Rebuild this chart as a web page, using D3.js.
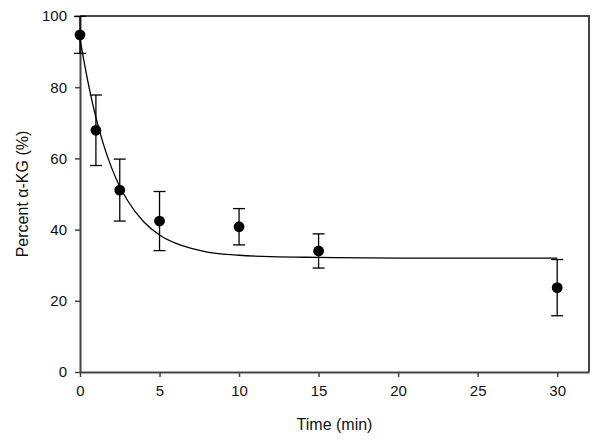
<!DOCTYPE html>
<html>
<head>
<meta charset="utf-8">
<script src="https://cdn.jsdelivr.net/npm/d3@7"></script>
<style>
  body { margin: 0; background: #fff; }
  svg { display: block; font-family: "Liberation Sans", Arial, sans-serif; }
</style>
</head>
<body>
<svg id="chart" width="600" height="443"></svg>
<script>
// measured points (min, percent, error)
const times = [0, 1, 2.5, 5, 10, 15, 30];
const means = [94.7, 67.9, 51.1, 42.4, 40.8, 34.0, 23.7];
const errors = [5.2, 9.9, 8.7, 8.3, 5.1, 4.8, 7.9];

// fitted curve
const fitTimes = [0, 0.5, 1, 1.5, 2, 2.5, 3, 4, 5, 6, 7, 8, 10, 12, 15, 20, 25, 30];
const fitValues = [93.5, 81.5, 71.5, 63.6, 57.2, 52.1, 48.1, 42.2, 38.5, 36.2, 34.7, 33.7, 32.8, 32.4, 32.2, 32.0, 32.0, 32.0];

const xTicks = [0, 5, 10, 15, 20, 25, 30];
const yTicks = [0, 20, 40, 60, 80, 100];

const margin = { top: 16, right: 11, bottom: 71, left: 80 },
    width = 600 - margin.left - margin.right,
    height = 443 - margin.top - margin.bottom;

const svg = d3.select("#chart");
const g = svg.append("g").attr("transform", `translate(${margin.left},${margin.top})`);

const x = d3.scaleLinear().domain([0, 32]).range([0, width]);
const y = d3.scaleLinear().domain([0, 100]).range([height, 0]);

const axisColor = "#444";

// frame (top and right)
g.append("path")
    .attr("d", `M0,0H${width}V${height}`)
    .attr("fill", "none")
    .attr("stroke", axisColor)
    .attr("stroke-width", 2);

// x axis
const xAxis = g.append("g")
    .attr("transform", `translate(0,${height})`)
    .call(d3.axisBottom(x).tickValues(xTicks).tickSize(5).tickPadding(8).tickSizeOuter(0));
xAxis.select(".domain").attr("stroke", axisColor).attr("stroke-width", 2);
xAxis.selectAll(".tick line").attr("stroke", axisColor).attr("stroke-width", 1.5);
xAxis.selectAll("text").style("font-size", "15px").attr("fill", "#111");

// y axis
const yAxis = g.append("g")
    .call(d3.axisLeft(y).tickValues(yTicks).tickSize(5).tickPadding(8).tickSizeOuter(0));
yAxis.select(".domain").attr("stroke", axisColor).attr("stroke-width", 2);
yAxis.selectAll(".tick line").attr("stroke", axisColor).attr("stroke-width", 1.5);
yAxis.selectAll("text").style("font-size", "15px").attr("fill", "#111");

// axis titles
svg.append("text")
    .attr("x", margin.left + width / 2)
    .attr("y", 430)
    .attr("text-anchor", "middle")
    .style("font-size", "16px")
    .attr("fill", "#111")
    .text("Time (min)");

svg.append("text")
    .attr("transform", `translate(28,${margin.top + height / 2}) rotate(-90)`)
    .attr("text-anchor", "middle")
    .style("font-size", "16px")
    .attr("fill", "#111")
    .text("Percent α-KG (%)");

// fitted curve
const fit = fitTimes.map((t, i) => [t, fitValues[i]]);
g.append("path")
    .datum(fit)
    .attr("fill", "none")
    .attr("stroke", "#000")
    .attr("stroke-width", 1.3)
    .attr("d", d3.line().x(d => x(d[0])).y(d => y(d[1])).curve(d3.curveMonotoneX));

// error bars
const pts = times.map((t, i) => ({ t: t, m: means[i], e: errors[i] }));
const bars = g.selectAll(".err").data(pts).enter().append("g").attr("class", "err")
    .attr("stroke", "#000").attr("stroke-width", 1.3);
bars.append("line")
    .attr("x1", d => x(d.t)).attr("x2", d => x(d.t))
    .attr("y1", d => y(d.m - d.e)).attr("y2", d => y(d.m + d.e));
bars.append("line")
    .attr("x1", d => x(d.t) - 6).attr("x2", d => x(d.t) + 6)
    .attr("y1", d => y(d.m + d.e)).attr("y2", d => y(d.m + d.e));
bars.append("line")
    .attr("x1", d => x(d.t) - 6).attr("x2", d => x(d.t) + 6)
    .attr("y1", d => y(d.m - d.e)).attr("y2", d => y(d.m - d.e));

// points
g.selectAll(".dot").data(pts).enter().append("circle")
    .attr("class", "dot")
    .attr("cx", d => x(d.t))
    .attr("cy", d => y(d.m))
    .attr("r", 5.4)
    .attr("fill", "#000");
</script>
</body>
</html>
